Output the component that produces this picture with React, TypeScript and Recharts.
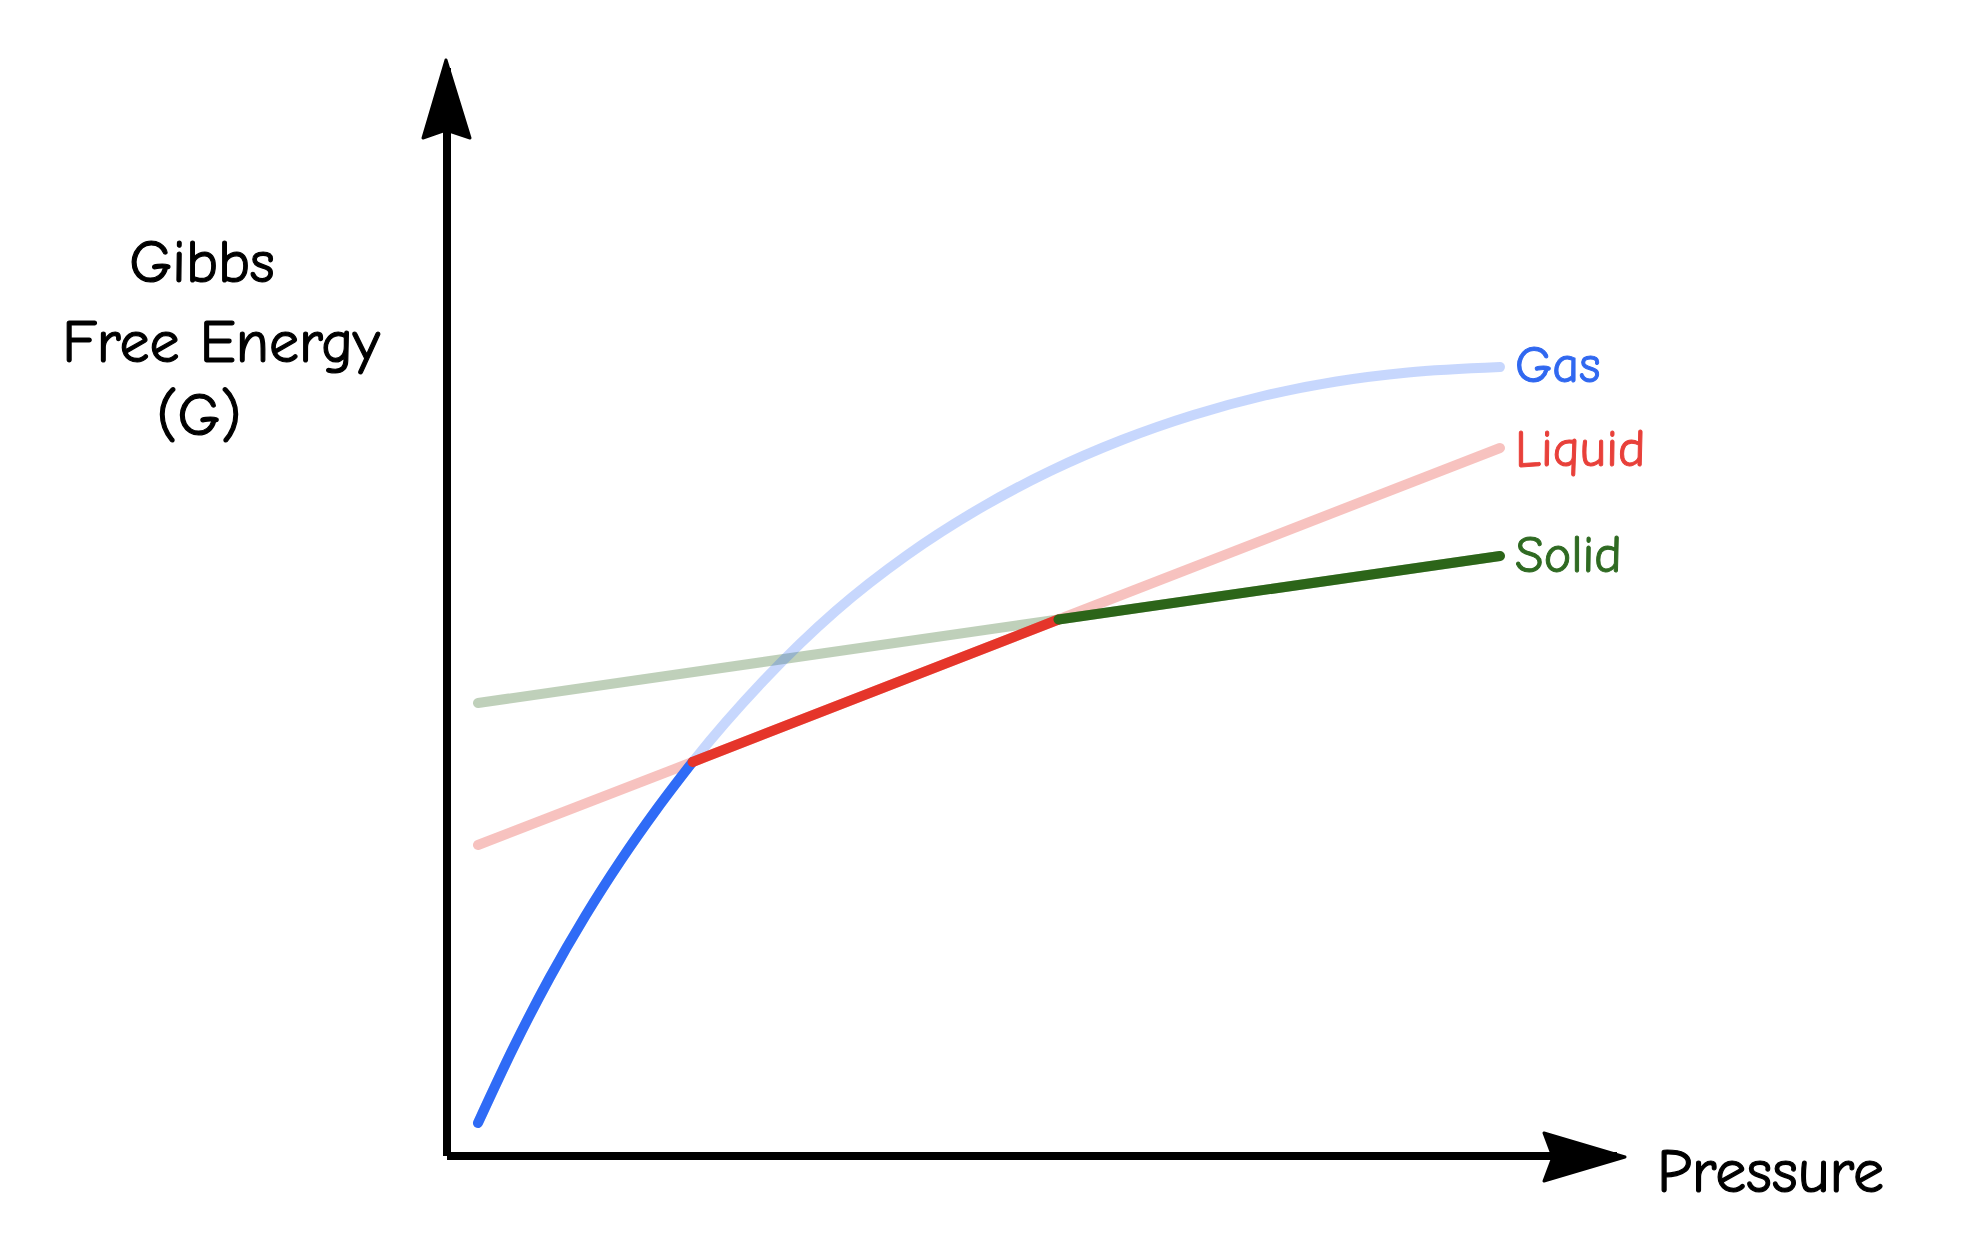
import { LineChart, Line, XAxis, YAxis, ReferenceDot } from "recharts";

// pressure (arbitrary units) and Gibbs free energy
const gasPressure = [0, 3.5, 7, 10.5, 14, 17.5, 21, 28, 35, 42, 49, 56, 63, 70, 77, 84, 91, 100];
const gasEnergy = [3.3, 10.9, 17.8, 24.0, 29.6, 34.7, 39.4, 47.6, 54.5, 60.1, 64.7, 68.5, 71.6, 74.1, 76.05, 77.45, 78.35, 78.9];

const liquidPressure = [0, 21, 56.8, 100];
const liquidEnergy = [31.1, 39.4, 53.65, 70.8];

const solidPressure = [0, 56.8, 100];
const solidEnergy = [45.3, 53.65, 60.0];

// where the lowest-G phase changes
const gasToLiquid = 21;
const liquidToSolid = 56.8;

const phaseNames = ["Gas", "Liquid", "Solid"];
const yTitleLines = ["Gibbs", "Free Energy", "(G)"];
const xTitle = "Pressure";

const X_DOMAIN: [number, number] = [-3.03, 111.45];
const Y_DOMAIN: [number, number] = [0, 108.8];

const FONT = "'Comic Sans MS', 'Comic Neue', 'Noto Sans', sans-serif";
const BLUE = "#2f6bf6";
const RED = "#e5352a";
const GREEN = "#2c6519";

const toPoints = (xs: number[], ys: number[]) => xs.map((p, i) => ({ p, g: ys[i] }));

const gasAll = toPoints(gasPressure, gasEnergy);
const liquidAll = toPoints(liquidPressure, liquidEnergy);
const solidAll = toPoints(solidPressure, solidEnergy);

const gasStable = gasAll.filter((d) => d.p <= gasToLiquid);
const liquidStable = liquidAll.filter((d) => d.p >= gasToLiquid && d.p <= liquidToSolid);
const solidStable = solidAll.filter((d) => d.p >= liquidToSolid);

const endLabel = (text: string, color: string, last: number, dy: number) => (props: any) => {
  if (props.index !== last) return null;
  return (
    <text
      x={props.x + 15}
      y={props.y + dy}
      fill={color}
      stroke={color}
      strokeWidth={1}
      fontSize={52}
      fontFamily={FONT}
    >
      {text}
    </text>
  );
};

const ArrowRight = ({ cx, cy }: any) => (
  <polygon
    points={`${cx + 8},${cy + 1} ${cx - 73},${cy - 23} ${cx - 64},${cy + 1} ${cx - 73},${cy + 25}`}
    fill="#000"
    stroke="#000"
    strokeWidth={3}
    strokeLinejoin="round"
  />
);

const ArrowUp = ({ cx, cy }: any) => (
  <polygon
    points={`${cx - 1},${cy - 8} ${cx - 24},${cy + 70} ${cx - 1},${cy + 62} ${cx + 23},${cy + 70}`}
    fill="#000"
    stroke="#000"
    strokeWidth={3}
    strokeLinejoin="round"
  />
);

const lineProps = {
  dataKey: "g",
  type: "linear" as const,
  dot: false,
  activeDot: false,
  strokeWidth: 10,
  strokeLinecap: "round" as const,
  isAnimationActive: false,
};

export default function App() {
  return (
    <LineChart width={1960} height={1220} margin={{ top: 60, right: 351, bottom: 12, left: 0 }}>
      <XAxis
        type="number"
        dataKey="p"
        domain={X_DOMAIN}
        allowDataOverflow
        tick={false}
        tickLine={false}
        height={60}
        axisLine={{ stroke: "#000", strokeWidth: 8 }}
        label={{
          content: ({ viewBox }: any) => (
            <text
              x={(viewBox?.x ?? 439) + (viewBox?.width ?? 1170) + 40}
              y={(viewBox?.y ?? 1148) + 36}
              fontSize={62}
              fontFamily={FONT}
              fill="#000"
              stroke="#000"
              strokeWidth={1.2}
            >
              {xTitle}
            </text>
          ),
        }}
      />
      <YAxis
        type="number"
        domain={Y_DOMAIN}
        allowDataOverflow
        tick={false}
        tickLine={false}
        width={439}
        axisLine={{ stroke: "#000", strokeWidth: 8 }}
        label={{
          content: () => (
            <g fontSize={60} fontFamily={FONT} fill="#000" stroke="#000" strokeWidth={1.2} textAnchor="middle">
              <text x={194} y={274}>{yTitleLines[0]}</text>
              <text x={213} y={354}>{yTitleLines[1]}</text>
              <text x={191} y={427}>{yTitleLines[2]}</text>
            </g>
          ),
        }}
      />

      {/* full curves, faded */}
      <Line {...lineProps} data={solidAll} stroke={GREEN} strokeOpacity={0.3}
        label={endLabel(phaseNames[2], "#2f6a22", solidAll.length - 1, 16)} />
      <Line {...lineProps} data={liquidAll} stroke={RED} strokeOpacity={0.3}
        label={endLabel(phaseNames[1], "#e8403a", liquidAll.length - 1, 18)} />
      <Line {...lineProps} data={gasAll} type="monotone" stroke={BLUE} strokeOpacity={0.27}
        label={endLabel(phaseNames[0], "#3068f0", gasAll.length - 1, 15)} />

      {/* stable phase (lowest G) */}
      <Line {...lineProps} data={gasStable} type="monotone" stroke={BLUE} />
      <Line {...lineProps} data={liquidStable} stroke={RED} />
      <Line {...lineProps} data={solidStable} stroke={GREEN} />

      <ReferenceDot x={X_DOMAIN[1]} y={Y_DOMAIN[0]} ifOverflow="visible" shape={ArrowRight} />
      <ReferenceDot x={X_DOMAIN[0]} y={Y_DOMAIN[1]} ifOverflow="visible" shape={ArrowUp} />
    </LineChart>
  );
}
